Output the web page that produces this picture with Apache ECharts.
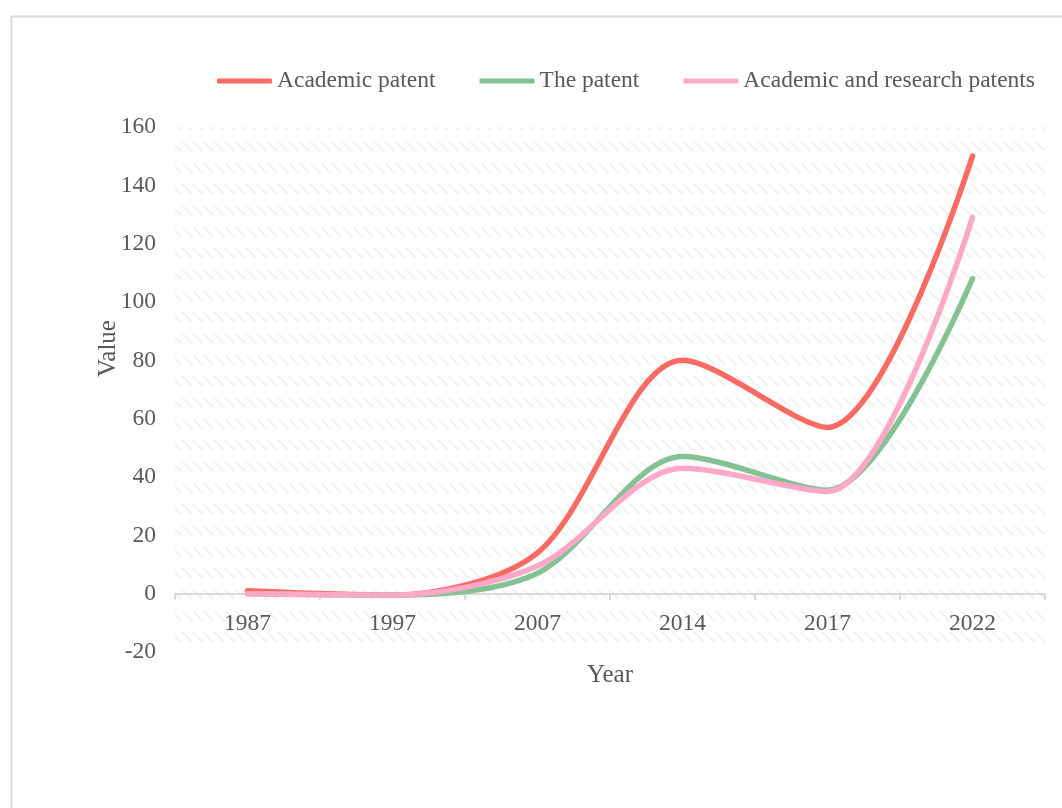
<!DOCTYPE html>
<html>
<head>
<meta charset="utf-8">
<script src="https://cdn.jsdelivr.net/npm/echarts@6/dist/echarts.min.js"></script>
<style>
  html, body { margin: 0; padding: 0; background: #fff; }
  #chart { width: 1062px; height: 808px; }
</style>
</head>
<body>
<div id="chart"></div>
<script>
const categories = ['1987', '1997', '2007', '2014', '2017', '2022']
const academicPatent = [1, -0.5, 14, 80, 57, 150]
const thePatent = [0, -0.5, 7, 47, 35.5, 108]
const researchPatents = [0, -0.5, 9.5, 43, 35, 129]
const seriesNames = ['Academic patent', 'The patent', 'Academic and research patents']
const colors = ['#fa6a64', '#84c296', '#ffa7c6']

// hatched bands for the plot background
function makeHatch() {
  const c = document.createElement('canvas')
  c.width = 64
  c.height = 64
  const ctx = c.getContext('2d')
  ctx.strokeStyle = '#f1f1f1'
  ctx.lineWidth = 2
  const bandH = 10
  const period = 64 / 3
  for (let k = -1; k < 4; k++) {
    const top = 13.6 + k * period
    ctx.save()
    ctx.beginPath()
    ctx.rect(0, top, 64, bandH)
    ctx.clip()
    for (let x = -32; x < 80; x += 64 / 6) {
      ctx.beginPath()
      ctx.moveTo(x, top - 1)
      ctx.lineTo(x + bandH + 2, top + bandH + 1)
      ctx.stroke()
    }
    ctx.restore()
  }
  return { image: c, repeat: 'repeat' }
}

const font = '"Liberation Serif", "Times New Roman", serif'
const textColor = '#595959'

const chart = echarts.init(document.getElementById('chart'))
const data = [academicPatent, thePatent, researchPatents]

chart.setOption({
  backgroundColor: '#fff',
  animation: false,
  color: colors,
  textStyle: { fontFamily: font },
  graphic: [{
    type: 'rect',
    left: 9,
    top: 14,
    shape: { width: 1060, height: 800 },
    style: { fill: 'none', stroke: '#d9d9d9', lineWidth: 2 },
    silent: true
  }],
  legend: {
    top: 64,
    right: 22,
    itemGap: 44,
    itemWidth: 55,
    itemHeight: 5,
    icon: 'roundRect',
    textStyle: { fontFamily: font, fontSize: 23.5, color: textColor },
    data: seriesNames
  },
  grid: {
    left: 175,
    right: 17,
    top: 127,
    bottom: 156,
    show: true,
    borderWidth: 0,
    backgroundColor: makeHatch()
  },
  xAxis: {
    type: 'category',
    data: categories,
    boundaryGap: true,
    name: 'Year',
    nameLocation: 'middle',
    nameGap: 11,
    nameTextStyle: { fontFamily: font, fontSize: 25, color: textColor },
    axisLine: { onZero: true, lineStyle: { color: '#d9d9d9', width: 2 } },
    axisTick: { show: true, length: 6, lineStyle: { color: '#d9d9d9', width: 2 } },
    // labels sit under the zero line, not the grid bottom
    axisLabel: { margin: -40, fontFamily: font, fontSize: 23.5, color: textColor },
    splitLine: { show: false }
  },
  yAxis: {
    type: 'value',
    min: -20,
    max: 160,
    interval: 20,
    name: 'Value',
    nameLocation: 'middle',
    nameGap: 54,
    nameMoveOverlap: false,
    nameTextStyle: { fontFamily: font, fontSize: 25, color: textColor, padding: [0, 0, 0, 82] },
    axisLine: { show: false },
    axisTick: { show: false },
    axisLabel: { margin: 19, fontFamily: font, fontSize: 23.5, color: textColor },
    splitLine: { show: false }
  },
  series: seriesNames.map((name, i) => ({
    name,
    type: 'line',
    data: data[i],
    smooth: 0.3,
    symbol: 'none',
    lineStyle: { width: 5.5, cap: 'round', join: 'round', color: colors[i] },
    itemStyle: { color: colors[i] }
  }))
})
</script>
</body>
</html>
